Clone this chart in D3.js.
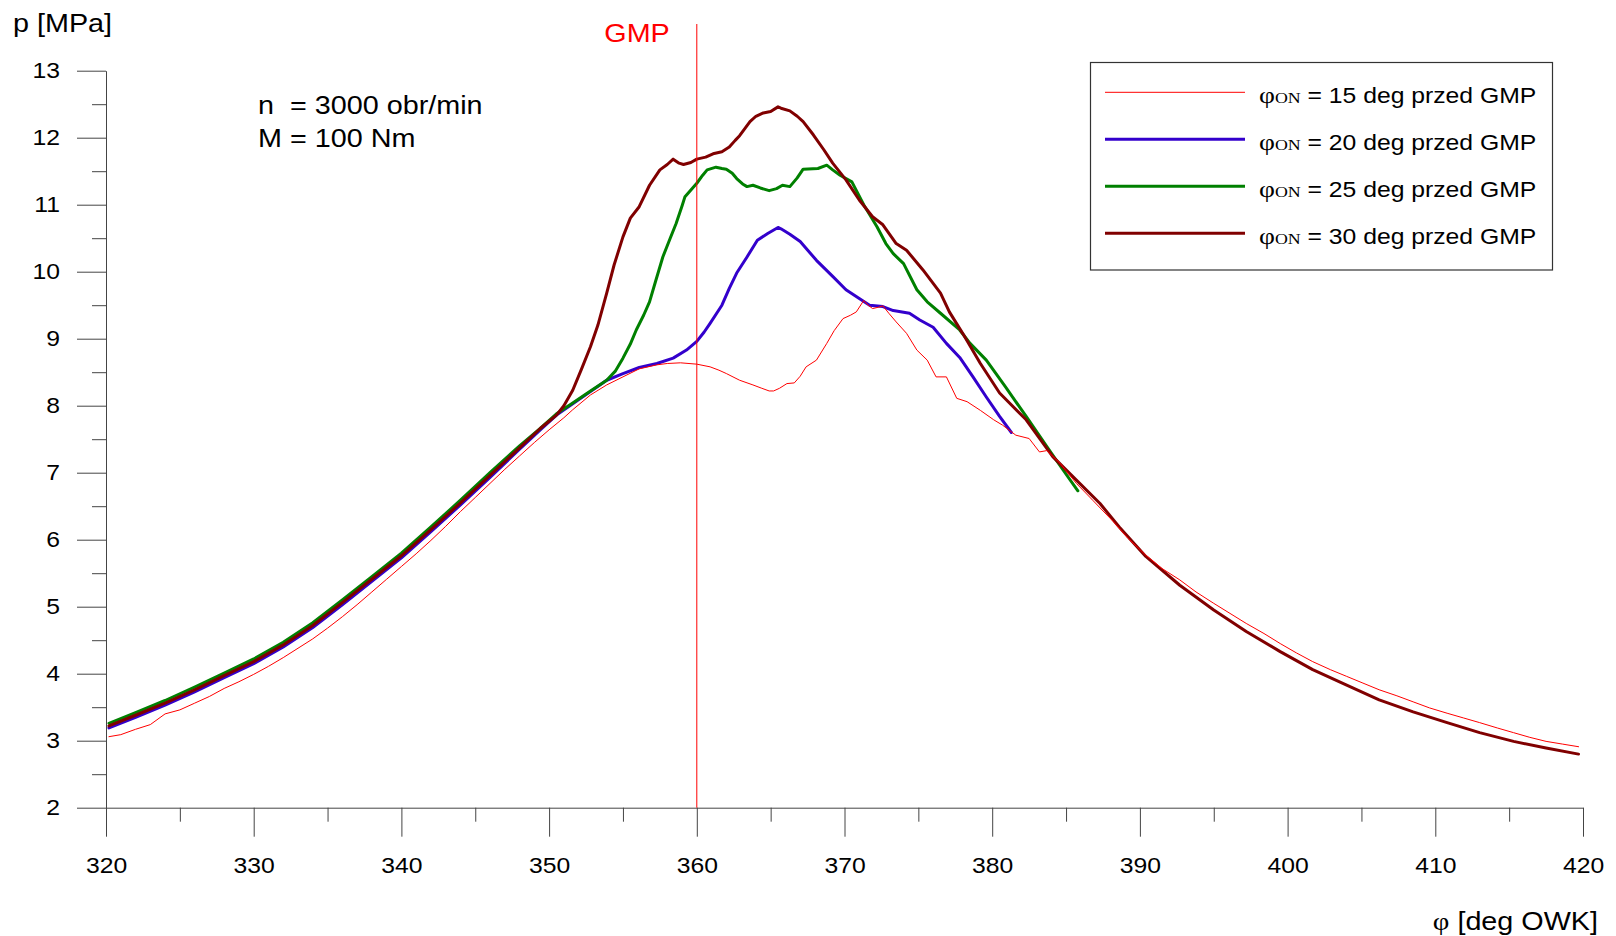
<!DOCTYPE html>
<html>
<head>
<meta charset="utf-8">
<script src="https://cdn.jsdelivr.net/npm/d3@7"></script>
<style>
  html, body { margin: 0; padding: 0; background: #fff; }
  svg { display: block; }
  text { font-family: "Liberation Sans", Arial, sans-serif; }
</style>
</head>
<body>
<svg id="chart" width="1616" height="936"></svg>
<script>
// Crank angle [deg OWK] and cylinder pressure [MPa] for each ignition advance.
const onAngles = [15, 20, 25, 30];
const seriesColors = ["#ff0000", "#3300cc", "#008000", "#800000"];
const seriesWidths = [1, 3, 3, 3];

const p15 = [
  [320.2,3.06],[321,3.09],[322,3.17],[323,3.24],[324,3.40],[325,3.46],[326,3.56],[327,3.66],
  [328,3.78],[329,3.88],[330,3.99],[331,4.11],[332,4.24],[333,4.38],[334,4.52],[335,4.68],
  [336,4.85],[337,5.03],[338,5.22],[339,5.41],[340,5.60],[341,5.79],[342,5.99],[343,6.20],
  [344,6.42],[345,6.63],[346,6.84],[347,7.05],[348,7.25],[349,7.45],[350,7.64],[351,7.82],
  [351.6,7.94],[352.8,8.16],[353.9,8.31],[355.0,8.43],[356.1,8.55],[357.3,8.61],[358.0,8.63],
  [358.9,8.64],[360.0,8.62],[360.9,8.58],[361.5,8.53],[362.0,8.48],[362.9,8.38],[363.8,8.31],
  [364.4,8.26],[364.9,8.22],[365.2,8.22],[365.6,8.26],[366.1,8.33],[366.6,8.34],[367.0,8.44],
  [367.4,8.58],[368.1,8.68],[368.8,8.93],[369.3,9.12],[369.9,9.30],[370.4,9.35],[370.8,9.40],
  [371.3,9.57],[371.6,9.50],[371.9,9.45],[372.3,9.47],[372.6,9.49],[373.0,9.38],[373.5,9.25],
  [374.2,9.08],[374.9,8.83],[375.6,8.68],[376.2,8.43],[376.9,8.43],[377.6,8.11],[378.3,8.06],
  [379.2,7.93],[380.1,7.79],[380.7,7.71],[381.6,7.56],[382.5,7.51],[383.2,7.31],[383.7,7.33],
  [384.6,7.14],[385.7,6.84],[386.8,6.59],[388.2,6.27],[389.2,6.02],[390.4,5.77],[391.5,5.57],
  [392.7,5.40],[393.8,5.22],[395.0,5.05],[396.1,4.90],[397.2,4.75],[398.4,4.60],[399.5,4.45],
  [400.6,4.31],[401.7,4.18],[402.9,4.06],[404.0,3.96],[405.1,3.86],[406.2,3.76],[407.4,3.67],
  [408.5,3.58],[409.6,3.49],[410.8,3.41],[411.9,3.34],[413.0,3.27],[414.2,3.19],[415.3,3.12],
  [416.4,3.05],[417.5,2.99],[418.6,2.95],[419.7,2.91]
];

const p20 = [
  [320.2,3.19],[322,3.35],[324,3.53],[326,3.73],[328,3.94],[330,4.15],[332,4.40],[334,4.69],
  [336,5.03],[338,5.38],[340,5.73],[342,6.12],[344,6.52],[346,6.93],[348,7.35],[349.4,7.64],
  [350.5,7.86],[351.6,8.03],[352.8,8.21],[353.9,8.38],[355.0,8.48],[356.1,8.57],[357.3,8.63],
  [358.4,8.71],[359.3,8.83],[360.0,8.96],[360.5,9.10],[360.9,9.23],[361.7,9.50],[362.2,9.75],
  [362.7,9.98],[363.4,10.22],[364.1,10.47],[364.8,10.57],[365.5,10.66],[365.7,10.64],
  [366.3,10.56],[367.0,10.45],[368.1,10.17],[369.2,9.93],[370.1,9.73],[371.0,9.60],[371.7,9.50],
  [372.6,9.48],[373.3,9.42],[374.4,9.38],[375.1,9.28],[376.0,9.17],[376.9,8.93],[377.8,8.72],
  [378.7,8.43],[379.6,8.13],[380.5,7.84],[381.3,7.60]
];

const p25 = [
  [320.2,3.26],[322,3.42],[324,3.60],[326,3.80],[328,4.01],[330,4.22],[332,4.47],[334,4.76],
  [336,5.10],[338,5.45],[340,5.80],[342,6.19],[344,6.59],[346,7.00],[348,7.40],[349.4,7.66],
  [350.5,7.88],[351.6,8.04],[352.8,8.22],[353.9,8.38],[354.5,8.52],[355.0,8.71],[355.5,8.92],
  [355.9,9.13],[356.4,9.35],[356.8,9.55],[357.2,9.85],[357.7,10.22],[358.2,10.50],[358.6,10.72],
  [359.0,10.98],[359.2,11.12],[359.6,11.22],[360.0,11.32],[360.4,11.44],[360.7,11.52],
  [361.3,11.56],[361.7,11.54],[362.0,11.53],[362.4,11.47],[362.7,11.39],[363.1,11.31],
  [363.4,11.27],[363.8,11.29],[364.3,11.25],[364.9,11.21],[365.4,11.24],[365.8,11.29],
  [366.3,11.27],[366.8,11.40],[367.2,11.53],[368.2,11.54],[368.8,11.59],[369.2,11.52],
  [369.7,11.44],[370.5,11.34],[371.3,11.00],[372.2,10.67],[372.8,10.42],[373.3,10.27],
  [374.0,10.12],[374.9,9.73],[375.6,9.55],[376.5,9.38],[377.8,9.13],[378.5,8.93],[379.6,8.68],
  [380.9,8.28],[382.3,7.84],[383.7,7.39],[384.8,7.04],[385.8,6.73]
];

const p30 = [
  [320.2,3.22],[322,3.38],[324,3.56],[326,3.76],[328,3.97],[330,4.18],[332,4.43],[334,4.72],
  [336,5.06],[338,5.41],[340,5.76],[342,6.15],[344,6.55],[346,6.96],[348,7.37],[349.4,7.66],
  [350.5,7.86],[351.0,8.00],[351.6,8.23],[352.2,8.55],[352.8,8.88],[353.3,9.20],[353.9,9.68],
  [354.4,10.10],[355.0,10.52],[355.5,10.80],[356.1,10.97],[356.8,11.29],[357.5,11.52],
  [358.0,11.60],[358.4,11.68],[358.8,11.62],[359.1,11.60],[359.6,11.63],[360.0,11.68],
  [360.6,11.71],[361.1,11.76],[361.7,11.79],[362.2,11.86],[362.6,11.96],[362.9,12.03],
  [363.3,12.15],[363.6,12.24],[364.0,12.32],[364.5,12.37],[365.0,12.39],[365.5,12.46],
  [365.7,12.44],[366.3,12.40],[366.8,12.32],[367.2,12.24],[367.9,12.04],[368.6,11.82],
  [369.2,11.62],[370.1,11.37],[371.0,11.07],[371.9,10.82],[372.6,10.70],[373.5,10.42],
  [374.2,10.32],[375.3,10.03],[376.5,9.68],[377.1,9.40],[378.0,9.08],[379.2,8.63],[380.5,8.19],
  [382.3,7.79],[384.1,7.24],[385.7,6.89],[387.3,6.54],[388.6,6.19],[390.4,5.75],[392.7,5.32],
  [395.0,4.95],[397.2,4.63],[399.5,4.33],[401.7,4.06],[404.0,3.83],[406.2,3.61],[408.5,3.43],
  [410.8,3.27],[413.0,3.12],[415.3,2.99],[417.5,2.89],[419.7,2.80]
];

const xMajorTicks = [320, 330, 340, 350, 360, 370, 380, 390, 400, 410, 420];
const xMinorTicks = [325, 335, 345, 355, 365, 375, 385, 395, 405, 415];
const yMajorTicks = [2, 3, 4, 5, 6, 7, 8, 9, 10, 11, 12, 13];
const yMinorTicks = [2.5, 3.5, 4.5, 5.5, 6.5, 7.5, 8.5, 9.5, 10.5, 11.5, 12.5];

const tdcAngle = 360;
const conditionLines = ["n  = 3000 obr/min", "M = 100 Nm"];

// ---------------------------------------------------------------------------
const svg = d3.select("#chart");
const SX = 1.15; // horizontal stretch of the lettering
const SANS = "Liberation Sans, Arial, sans-serif";
const SERIF = "Liberation Serif, Times New Roman, serif";

const x = d3.scaleLinear().domain([320, 420]).range([106, 1583]);
const y = d3.scaleLinear().domain([2, 13]).range([807.7, 70.7]);

const axisColor = "#444";

// y axis: major ticks with labels, minor ticks without
const gy = svg.append("g").attr("transform", `translate(${x(320)},0)`);
gy.call(d3.axisLeft(y).tickValues(yMajorTicks).tickSize(29).tickSizeOuter(0).tickFormat(d3.format("d")));
gy.append("g").call(d3.axisLeft(y).tickValues(yMinorTicks).tickSize(14).tickSizeOuter(0).tickFormat(""))
  .select(".domain").remove();
gy.selectAll("path, line").attr("stroke", axisColor);
gy.selectAll(".tick text")
  .attr("x", null).attr("dy", "0.3em")
  .attr("transform", `translate(-46,0) scale(${SX},1)`)
  .attr("font-size", 21.5).attr("font-family", SANS)
  .style("fill", "#000");

// x axis
const gx = svg.append("g").attr("transform", `translate(0,${y(2)})`);
gx.call(d3.axisBottom(x).tickValues(xMajorTicks).tickSize(29).tickSizeOuter(0).tickFormat(d3.format("d")));
gx.append("g").call(d3.axisBottom(x).tickValues(xMinorTicks).tickSize(14).tickSizeOuter(0).tickFormat(""))
  .select(".domain").remove();
gx.selectAll("path, line").attr("stroke", axisColor);
gx.selectAll(".tick text")
  .attr("y", 65.5).attr("dy", null)
  .attr("transform", `scale(${SX},1)`)
  .attr("font-size", 21.5).attr("font-family", SANS)
  .style("fill", "#000");

// stretched text helper
function label(parent, tx, ty, size, anchor, color) {
  return parent.append("text")
    .attr("transform", `translate(${tx},${ty}) scale(${SX},1)`)
    .attr("text-anchor", anchor || "start")
    .attr("font-size", size)
    .style("fill", color || "#000")
    .style("white-space", "pre");
}

// axis titles
label(svg, 13, 32, 25).text("p [MPa]");
const xt = label(svg, 1598, 930, 25, "end");
xt.append("tspan").attr("font-family", SERIF).attr("font-size", 25).text("φ");
xt.append("tspan").text(" [deg OWK]");

// operating conditions
conditionLines.forEach((t, i) => label(svg, 258, 114 + i * 32.5, 25).text(t));

// pressure curves
const line = d3.line().x(d => x(d[0])).y(d => y(d[1]));
const drawOrder = [1, 2, 3, 0];
const allSeries = [p15, p20, p25, p30];
const gLines = svg.append("g").attr("fill", "none").attr("stroke-linejoin", "round").attr("stroke-linecap", "round");
drawOrder.forEach(i => {
  gLines.append("path")
    .datum(allSeries[i])
    .attr("d", line)
    .attr("stroke", seriesColors[i])
    .attr("stroke-width", seriesWidths[i]);
});

// top dead centre marker
svg.append("line")
  .attr("x1", x(tdcAngle)).attr("x2", x(tdcAngle))
  .attr("y1", 24).attr("y2", y(2))
  .attr("stroke", "#ff0000").attr("stroke-width", 1);
label(svg, 637, 42, 25, "middle", "#ff0000").text("GMP");

// legend
const lg = svg.append("g");
lg.append("rect")
  .attr("x", 1090.5).attr("y", 62.5).attr("width", 462).attr("height", 207.5)
  .attr("fill", "#fff").attr("stroke", "#333").attr("stroke-width", 1.2);
onAngles.forEach((a, i) => {
  const ly = 92.3 + i * 47;
  lg.append("line")
    .attr("x1", 1105).attr("x2", 1245).attr("y1", ly).attr("y2", ly)
    .attr("stroke", seriesColors[i]).attr("stroke-width", seriesWidths[i]);
  const t = label(lg, 1259, ly + 10.5, 21.5);
  t.append("tspan").attr("font-family", SERIF).attr("font-size", 24).text("φ");
  t.append("tspan").attr("font-family", SERIF).attr("font-size", 15.5).text("ON");
  t.append("tspan").text(` = ${a} deg przed GMP`);
});
</script>
</body>
</html>
